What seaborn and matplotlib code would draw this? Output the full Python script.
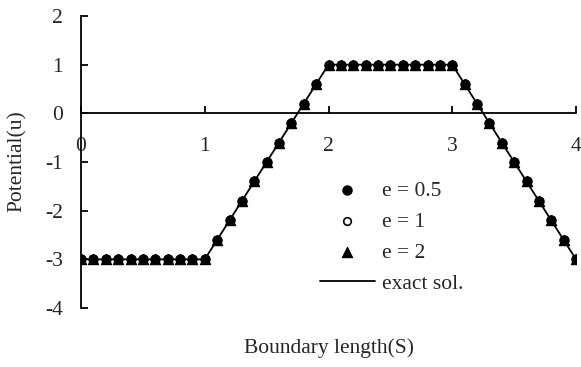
import matplotlib
matplotlib.use("Agg")
import matplotlib.pyplot as plt
import seaborn as sns
import pandas as pd

# Sample positions along the boundary
s_points = [0.0, 0.1, 0.2, 0.3, 0.4, 0.5, 0.6, 0.7, 0.8, 0.9, 1.0,
            1.1, 1.2, 1.3, 1.4, 1.5, 1.6, 1.7, 1.8, 1.9, 2.0,
            2.1, 2.2, 2.3, 2.4, 2.5, 2.6, 2.7, 2.8, 2.9, 3.0,
            3.1, 3.2, 3.3, 3.4, 3.5, 3.6, 3.7, 3.8, 3.9, 4.0]

# Numerical potential for each e
u_e05 = [-3, -3, -3, -3, -3, -3, -3, -3, -3, -3, -3,
         -2.6, -2.2, -1.8, -1.4, -1.0, -0.6, -0.2, 0.2, 0.6, 1.0,
         1, 1, 1, 1, 1, 1, 1, 1, 1, 1,
         0.6, 0.2, -0.2, -0.6, -1.0, -1.4, -1.8, -2.2, -2.6, -3.0]
u_e1 = [-3, -3, -3, -3, -3, -3, -3, -3, -3, -3, -3,
        -2.6, -2.2, -1.8, -1.4, -1.0, -0.6, -0.2, 0.2, 0.6, 1.0,
        1, 1, 1, 1, 1, 1, 1, 1, 1, 1,
        0.6, 0.2, -0.2, -0.6, -1.0, -1.4, -1.8, -2.2, -2.6, -3.0]
u_e2 = [-3, -3, -3, -3, -3, -3, -3, -3, -3, -3, -3,
        -2.6, -2.2, -1.8, -1.4, -1.0, -0.6, -0.2, 0.2, 0.6, 1.0,
        1, 1, 1, 1, 1, 1, 1, 1, 1, 1,
        0.6, 0.2, -0.2, -0.6, -1.0, -1.4, -1.8, -2.2, -2.6, -3.0]

# Exact solution (piecewise linear)
s_exact = [0, 1, 2, 3, 4]
u_exact = [-3, -3, 1, 1, -3]

x_ticks = [0, 1, 2, 3, 4]
y_ticks = [-4, -3, -2, -1, 0, 1, 2]

FS = 15.5

sns.set_theme(style="white")
plt.rcParams["font.family"] = ["Liberation Serif", "DejaVu Serif"]
plt.rcParams["font.size"] = FS

fig = plt.figure(figsize=(5.81, 3.67), dpi=100)
ax = fig.add_axes([81 / 581, 1 - 308 / 367, (576 - 81) / 581, (308 - 16) / 367])

exact_df = pd.DataFrame({"s": s_exact, "u": u_exact})
sns.lineplot(data=exact_df, x="s", y="u", ax=ax, color="black", lw=1.3,
             label="exact sol.", zorder=2)

df05 = pd.DataFrame({"s": s_points, "u": u_e05})
df1 = pd.DataFrame({"s": s_points, "u": u_e1})
df2 = pd.DataFrame({"s": s_points, "u": u_e2})
sns.scatterplot(data=df05, x="s", y="u", ax=ax, marker="o", s=45, color="black",
                edgecolor="black", linewidth=0.8, label="e = 0.5", zorder=3)
sns.scatterplot(data=df1, x="s", y="u", ax=ax, marker="o", s=30, facecolor="white",
                edgecolor="black", linewidth=1.2, label="e = 1", zorder=2.5)
sns.scatterplot(data=df2, x="s", y="u", ax=ax, marker="^", s=55, color="black",
                edgecolor="black", linewidth=0.8, label="e = 2", zorder=4)

ax.set_xlim(0, 4)
ax.set_ylim(-4, 2)
ax.set_xticks(x_ticks)
ax.set_yticks(y_ticks)
ax.set_xticklabels([str(t) for t in x_ticks])
ax.set_yticklabels([str(t) for t in y_ticks])

for side in ["top", "right"]:
    ax.spines[side].set_visible(False)
ax.spines["bottom"].set_position(("data", 0))
for side in ["left", "bottom"]:
    ax.spines[side].set_color("black")
    ax.spines[side].set_linewidth(1.3)

ax.tick_params(axis="x", direction="in", length=5, width=1.3, color="black",
               pad=17, labelsize=FS, bottom=True)
ax.tick_params(axis="y", direction="in", length=5, width=1.3, color="black",
               pad=13, labelsize=FS, left=True)

ax.set_xlabel("")
ax.set_ylabel("")
fig.text(329 / 581, 1 - 348 / 367, "Boundary length(S)", ha="center", va="center",
         fontsize=FS)
fig.text(17 / 581, 1 - 161 / 367, "Potential(u)", ha="center", va="center",
         rotation=90, fontsize=FS)

handles, labels = ax.get_legend_handles_labels()
order = [labels.index(l) for l in ["e = 0.5", "e = 1", "e = 2", "exact sol."]]
ax.legend([handles[i] for i in order], [labels[i] for i in order],
          loc="upper left", bbox_to_anchor=(320 / 581, 1 - 181 / 367),
          bbox_transform=fig.transFigure, frameon=False, borderpad=0,
          borderaxespad=0, handlelength=2.55, handletextpad=0.35,
          labelspacing=0.5, fontsize=FS)

fig.savefig("out.png", dpi=100)
